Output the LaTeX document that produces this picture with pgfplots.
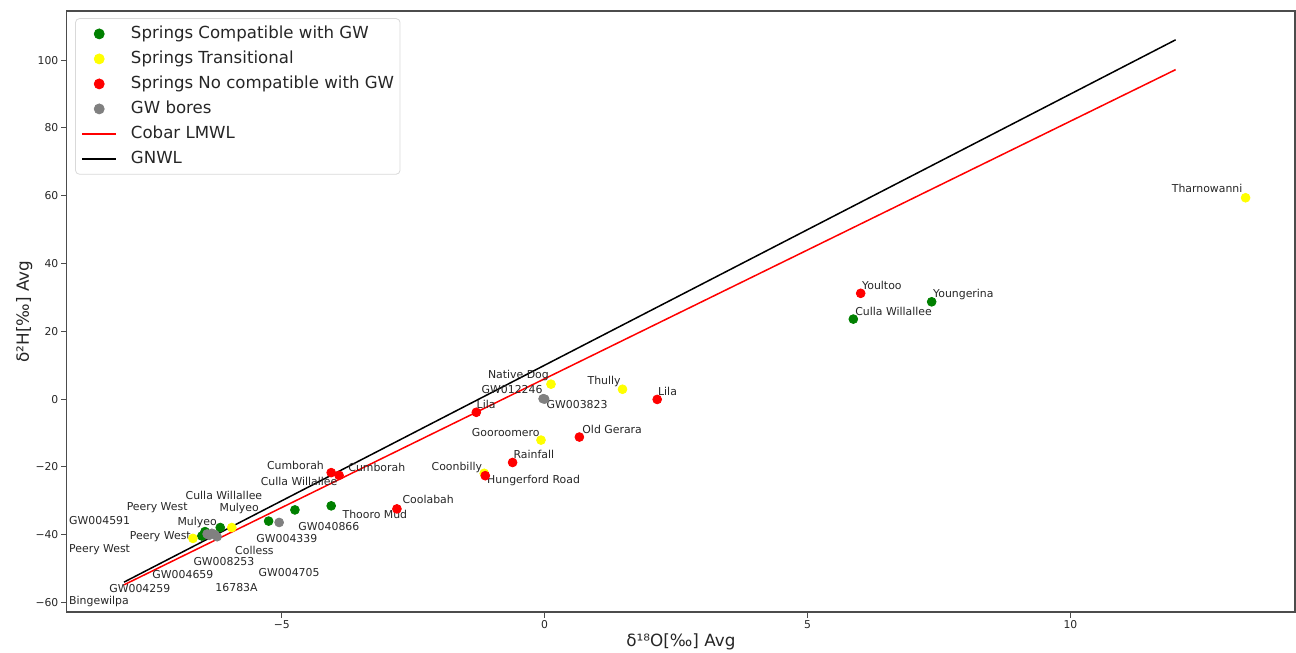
\documentclass[border=0pt]{standalone}
\usepackage{fontspec}
\setmainfont{DejaVu Sans}
\usepackage{pgfplots}
\pgfplotsset{compat=1.18}
\definecolor{mplgreen}{RGB}{0,128,0}
\definecolor{mplyellow}{RGB}{255,255,0}
\definecolor{mplred}{RGB}{255,0,0}
\definecolor{mplgrey}{RGB}{128,128,128}
\newcommand{\lab}{\fontsize{5.45}{6}\selectfont}
\pgfplotsset{
  dotleg/.style={legend image code/.code={\draw[##1, mark size=2.5pt] plot coordinates {(8.5pt,0pt)};}},
  redleg/.style={legend image code/.code={\draw[draw=mplred, line width=0.75pt] (0pt,0pt) -- (17pt,0pt);}},
  blackleg/.style={legend image code/.code={\draw[draw=black, line width=0.75pt] (0pt,0pt) -- (17pt,0pt);}},
}
\begin{document}
\begin{tikzpicture}
\useasboundingbox (-33.35pt,-20.15pt) rectangle (614.5pt,305.9pt);
\begin{axis}[
  at={(0,0)}, anchor=south west,
  scale only axis, width=614pt, height=300.4pt,
  xmin=-9.09, xmax=14.27, ymin=-62.8, ymax=114.5,
  axis line style={black!70, line width=0.6pt},
  xtick={-5,0,5,10}, xticklabels={−5,0,5,10},
  ytick={-60,-40,-20,0,20,40,60,80,100},
  yticklabels={−60,−40,−20,0,20,40,60,80,100},
  tick align=outside, tick pos=left,
  major tick length=2.8pt,
  tick style={black!70, line width=0.5pt},
  ticklabel style={font=\fontsize{5.4}{6}\selectfont, text=black!85, inner sep=1.2pt},
  label style={font=\fontsize{8.4}{10}\selectfont, text=black!85},
  xlabel={δ¹⁸O[‰] Avg}, ylabel={δ²H[‰] Avg},
  xlabel style={at={(axis description cs:0.5,-0.049)}, anchor=center},
  ylabel style={at={(axis description cs:-0.0345,0.5)}, anchor=center},
  legend style={at={(axis description cs:0.0068,0.988)}, anchor=north west,
    draw=black!15, rounded corners=2pt, fill=white,
    font=\fontsize{8.3}{10}\selectfont, text=black!85,
    inner xsep=3pt, inner ysep=3.7pt, row sep=4.6pt, column sep=7pt,
    nodes={inner sep=0pt, text height=6pt, text depth=1.9pt}},
  legend cell align=left,
]
\addplot[only marks, mark=*, color=mplgreen, mark size=2.2pt, dotleg]
  coordinates {(7.36,28.7) (5.87,23.6) (-4.06,-31.5) (-4.75,-32.7) (-5.25,-36.0)
  (-6.17,-37.9) (-6.46,-39.1) (-6.52,-40.4) (-6.40,-40.0)};
\addlegendentry{Springs Compatible with GW}
\addplot[only marks, mark=*, color=mplyellow, mark size=2.2pt, dotleg]
  coordinates {(13.33,59.4) (0.12,4.4) (1.48,2.9) (-0.07,-12.1) (-1.15,-21.9)
  (-6.69,-41.1) (-5.95,-37.9)};
\addlegendentry{Springs Transitional}
\addplot[only marks, mark=*, color=mplred, mark size=2.2pt, dotleg]
  coordinates {(6.01,31.2) (2.14,-0.1) (-1.30,-3.9) (0.66,-11.2) (-0.61,-18.7)
  (-1.13,-22.6) (-4.06,-21.7) (-3.91,-22.5) (-2.81,-32.4)};
\addlegendentry{Springs No compatible with GW}
\addplot[only marks, mark=*, color=mplgrey, mark size=2.2pt, dotleg]
  coordinates {(0.0,0.0) (-0.03,0.1) (-5.05,-36.4) (-6.33,-39.6) (-6.23,-40.6)
  (-6.38,-40.2) (-6.28,-39.9) (-6.42,-39.8)};
\addlegendentry{GW bores}
\addplot[color=mplred, line width=0.75pt, redleg]
  coordinates {(-8,-54.8) (12,97.2)};
\addlegendentry{Cobar LMWL}
\addplot[color=black, line width=0.75pt, blackleg]
  coordinates {(-8,-54) (12,106)};
\addlegendentry{GNWL}
% annotations
\begin{scope}[every node/.style={inner sep=0pt, text=black!85, font=\lab}]
\node[anchor=west] at (axis cs:11.92,62.2) {Tharnowanni};
\node[anchor=west] at (axis cs:6.03,33.6) {Youltoo};
\node[anchor=west] at (axis cs:7.38,30.9) {Youngerina};
\node[anchor=west] at (axis cs:5.90,26.0) {Culla Willallee};
\node at (axis cs:-0.50,6.9) {Native Dog};
\node at (axis cs:-0.62,2.7) {GW012246};
\node[anchor=west] at (axis cs:0.03,-1.5) {GW003823};
\node at (axis cs:1.13,5.1) {Thully};
\node[anchor=west] at (axis cs:2.15,2.2) {Lila};
\node[anchor=west] at (axis cs:-1.30,-1.6) {Lila};
\node at (axis cs:-0.74,-9.9) {Gooroomero};
\node[anchor=west] at (axis cs:0.71,-8.9) {Old Gerara};
\node[anchor=west] at (axis cs:-0.60,-16.3) {Rainfall};
\node at (axis cs:-1.67,-20.1) {Coonbilly};
\node[anchor=west] at (axis cs:-1.10,-24.1) {Hungerford Road};
\node at (axis cs:-4.74,-19.7) {Cumborah};
\node[anchor=west] at (axis cs:-3.74,-20.3) {Cumborah};
\node at (axis cs:-4.67,-24.2) {Culla Willallee};
\node[anchor=west] at (axis cs:-2.71,-29.5) {Coolabah};
\node[anchor=west] at (axis cs:-3.85,-34.0) {Thooro Mud};
\node[anchor=west] at (axis cs:-4.69,-37.7) {GW040866};
\node[anchor=west] at (axis cs:-5.49,-41.1) {GW004339};
\node at (axis cs:-6.10,-28.3) {Culla Willallee};
\node at (axis cs:-7.37,-32.1) {Peery West};
\node at (axis cs:-5.81,-32.4) {Mulyeo};
\node[anchor=west] at (axis cs:-9.05,-35.9) {GW004591};
\node at (axis cs:-6.61,-36.5) {Mulyeo};
\node at (axis cs:-7.31,-40.6) {Peery West};
\node[anchor=west] at (axis cs:-9.05,-44.5) {Peery West};
\node at (axis cs:-5.52,-44.7) {Colless};
\node at (axis cs:-6.10,-48.0) {GW008253};
\node at (axis cs:-6.88,-51.9) {GW004659};
\node at (axis cs:-4.86,-51.2) {GW004705};
\node at (axis cs:-7.70,-55.8) {GW004259};
\node at (axis cs:-5.86,-55.5) {16783A};
\node[anchor=west] at (axis cs:-9.05,-59.8) {Bingewilpa};
\end{scope}
\end{axis}
\end{tikzpicture}
\end{document}
